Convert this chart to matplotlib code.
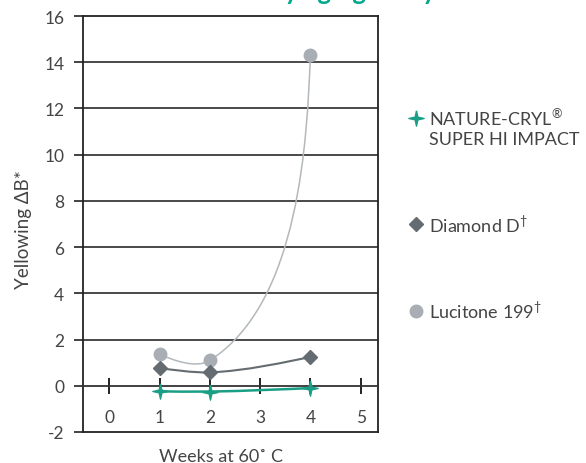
import numpy as np
import matplotlib
matplotlib.use("Agg")
import matplotlib.pyplot as plt
from matplotlib.path import Path
from matplotlib.patches import PathPatch
from matplotlib.lines import Line2D

weeks = [1, 2, 4]
nature_cryl = [-0.24, -0.25, -0.10]
diamond_d = [0.77, 0.58, 1.25]
lucitone = [1.36, 1.10, 14.30]

# blank first line keeps the marker level with the product name
series_labels = [" \nNATURE-CRYL$^{\\mathregular{®}}$\nSUPER HI IMPACT",
                 "Diamond D$^{\\mathregular{†}}$",
                 "Lucitone 199$^{\\mathregular{†}}$"]
x_ticks = [0, 1, 2, 3, 4, 5]
y_ticks = [-2, 0, 2, 4, 6, 8, 10, 12, 14, 16]

GREEN = "#1a9e86"
DARK_GRAY = "#646c71"
LIGHT_GRAY = "#a9aeb4"
TEXT = "#444444"

plt.rcParams["font.family"] = ["Lato", "DejaVu Sans"]
plt.rcParams["axes.unicode_minus"] = False
plt.rcParams["mathtext.fontset"] = "custom"
plt.rcParams["mathtext.rm"] = "Lato"


def smooth_curve(ax, xs, ys, **kw):
    # smoothed line through the points, built in display space
    pts = ax.transData.transform(np.column_stack([xs, ys]))
    n = len(pts)
    unit = lambda v: v / np.linalg.norm(v)
    tang = [None] * n
    for i in range(1, n - 1):
        tang[i] = unit(unit(pts[i] - pts[i - 1]) + unit(pts[i + 1] - pts[i]))
    verts = [pts[0]]
    codes = [Path.MOVETO]
    for i in range(n - 1):
        d = np.linalg.norm(pts[i + 1] - pts[i])
        c1 = pts[i] + tang[i] * d / 3 if tang[i] is not None else None
        c2 = pts[i + 1] - tang[i + 1] * d / 3 if tang[i + 1] is not None else None
        if c1 is None:
            c1 = pts[i] + ((c2 if c2 is not None else pts[i + 1]) - pts[i]) / 3
        if c2 is None:
            c2 = pts[i + 1] + (c1 - pts[i + 1]) / 3
        verts += [c1, c2, pts[i + 1]]
        codes += [Path.CURVE4] * 3
    verts = ax.transData.inverted().transform(np.array(verts))
    ax.add_patch(PathPatch(Path(verts, codes), fill=False, **kw))


fig = plt.figure(figsize=(5.86, 4.64), dpi=100)
ax = fig.add_axes([82.7 / 586, 31 / 464, (378 - 82.7) / 586, (433 - 17) / 464])
ax.set_xlim(-0.53, 5.344)
ax.set_ylim(-2, 16)

for y in range(2, 16, 2):
    ax.axhline(y, color="#3a3a3a", lw=1.3, zorder=1)
ax.axhline(-2, color="#222222", lw=1.3, zorder=3, clip_on=False)

for s in ["left", "right", "top"]:
    ax.spines[s].set_color("#222222")
    ax.spines[s].set_linewidth(1.3)
ax.spines["bottom"].set_position(("data", 0))
ax.spines["bottom"].set_color("#333333")
ax.spines["bottom"].set_linewidth(1.3)

ax.set_yticks(y_ticks)
ax.set_xticks(x_ticks)
ax.tick_params(axis="y", direction="out", length=6.2, width=1.2, color="#222222",
               labelsize=12.5, labelcolor=TEXT, pad=7)
ax.tick_params(axis="x", direction="inout", length=12, width=1.4, color="#222222",
               labelsize=12.5, labelcolor=TEXT, pad=11)

# data curves
smooth_curve(ax, weeks, lucitone, edgecolor="#b3b8bc", lw=1.1, zorder=4)
smooth_curve(ax, weeks, diamond_d, edgecolor=DARK_GRAY, lw=1.5, zorder=4)
smooth_curve(ax, weeks, nature_cryl, edgecolor=GREEN, lw=1.8, zorder=4)

star = [(0, 1), (0.18, 0.18), (1, 0), (0.18, -0.18), (0, -1), (-0.18, -0.18), (-1, 0), (-0.18, 0.18), (0, 1)]
ax.plot(weeks, lucitone, "o", color=LIGHT_GRAY, ms=9, zorder=5, clip_on=False)
ax.plot(weeks, diamond_d, "D", color=DARK_GRAY, ms=7, zorder=5)
ax.plot(weeks, nature_cryl, marker=star, ls="none", color=GREEN, ms=11, zorder=6)

ax.set_ylabel("Yellowing ΔB*", fontsize=13.5, color=TEXT, va="center")
ax.yaxis.set_label_coords(-0.2, 0.49)
ax.set_xlabel("Weeks at 60˚ C", fontsize=13, color=TEXT, va="center")
ax.xaxis.set_label_coords(0.47, -0.057)

handles = [
    Line2D([], [], marker=star, ls="none", color=GREEN, ms=11),
    Line2D([], [], marker="D", ls="none", color=DARK_GRAY, ms=7),
    Line2D([], [], marker="o", ls="none", color=LIGHT_GRAY, ms=9),
]
fig.legend(handles, series_labels, loc="upper left",
           bbox_to_anchor=(398 / 586, 1 - 80 / 464), frameon=False,
           prop={"size": 13}, labelcolor=TEXT,
           handlelength=1.0, handletextpad=0.2, labelspacing=3.57, borderpad=0)

# title, cropped at the top of the image: only the descenders of its last line show
fig.text(436 / 586, 1 - 3.5 / 464, "Yellowing\nby aging study", color="#00a88e",
         fontsize=18.5, fontweight="bold", ha="right", va="bottom", multialignment="right")

fig.savefig("out.png", dpi=100)
